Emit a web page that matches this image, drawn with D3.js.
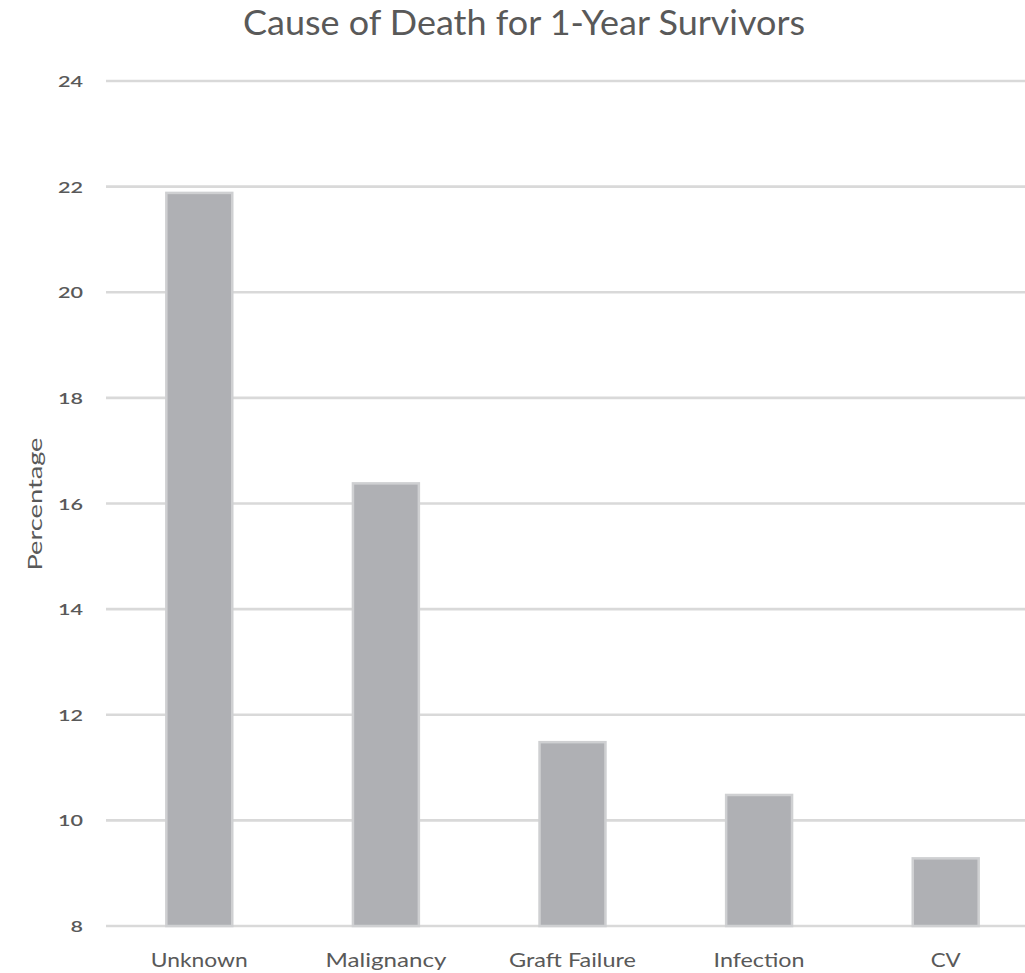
<!DOCTYPE html>
<html>
<head>
<meta charset="utf-8">
<script src="https://cdn.jsdelivr.net/npm/d3@7"></script>
<style>
  html, body { margin: 0; padding: 0; background: #ffffff; }
  svg { display: block; }
  text { font-family: Lato, "Open Sans", sans-serif; fill: #595959; }
</style>
</head>
<body>
<script>
// Chart data
const categories = ["Unknown", "Malignancy", "Graft Failure", "Infection", "CV"];
const percentages = [21.9, 16.4, 11.5, 10.5, 9.3];
const yTicks = [8, 10, 12, 14, 16, 18, 20, 22, 24];
const titleText = "Cause of Death for 1-Year Survivors";
const yLabelText = "Percentage";

const W = 1025, H = 973;
const svg = d3.select("body").append("svg").attr("width", W).attr("height", H);

const plot = { left: 106, right: 1039, top: 81, bottom: 926 };

const x = d3.scaleBand()
  .domain(categories)
  .range([plot.left, plot.right])
  .paddingInner(0.636)
  .paddingOuter(0.318);

const y = d3.scaleLinear()
  .domain([8, 24])
  .range([plot.bottom, plot.top]);

// Horizontal gridlines
svg.append("g")
  .selectAll("line")
  .data(yTicks)
  .join("line")
  .attr("x1", plot.left)
  .attr("x2", W)
  .attr("y1", d => y(d))
  .attr("y2", d => y(d))
  .attr("stroke", "#d9d9d9")
  .attr("stroke-width", 2.6);

// Y tick labels
svg.append("g")
  .selectAll("text")
  .data(yTicks)
  .join("text")
  .attr("x", 83)
  .attr("y", d => y(d) + 6)
  .attr("text-anchor", "end")
  .attr("font-size", 16)
  .attr("font-weight", 600)
  .attr("textLength", d => String(d).length * 12.5)
  .attr("lengthAdjust", "spacingAndGlyphs")
  .text(d => d);

// Bars
svg.append("g")
  .selectAll("rect")
  .data(percentages)
  .join("rect")
  .attr("x", (d, i) => x(categories[i]) + 1)
  .attr("y", d => y(d) + 1)
  .attr("width", x.bandwidth() - 2)
  .attr("height", d => y(8) - y(d) - 1)
  .attr("fill", "#afb0b4")
  .attr("stroke", "#cfd0d2")
  .attr("stroke-width", 2.5);

// Category labels
const catWidths = { "Unknown": 97, "Malignancy": 121, "Graft Failure": 127, "Infection": 91, "CV": 30 };
svg.append("g")
  .selectAll("text")
  .data(categories)
  .join("text")
  .attr("x", d => x(d) + x.bandwidth() / 2)
  .attr("y", 967)
  .attr("text-anchor", "middle")
  .attr("font-size", 20)
  .attr("textLength", d => catWidths[d])
  .attr("lengthAdjust", "spacingAndGlyphs")
  .text(d => d);

// Y axis title
svg.append("text")
  .attr("transform", "translate(42,504) rotate(-90)")
  .attr("text-anchor", "middle")
  .attr("font-size", 19)
  .attr("textLength", 133)
  .attr("lengthAdjust", "spacingAndGlyphs")
  .text(yLabelText);

// Chart title
svg.append("text")
  .attr("x", 524)
  .attr("y", 35)
  .attr("text-anchor", "middle")
  .attr("font-size", 34)
  .attr("textLength", 562)
  .attr("lengthAdjust", "spacingAndGlyphs")
  .text(titleText);
</script>
</body>
</html>
